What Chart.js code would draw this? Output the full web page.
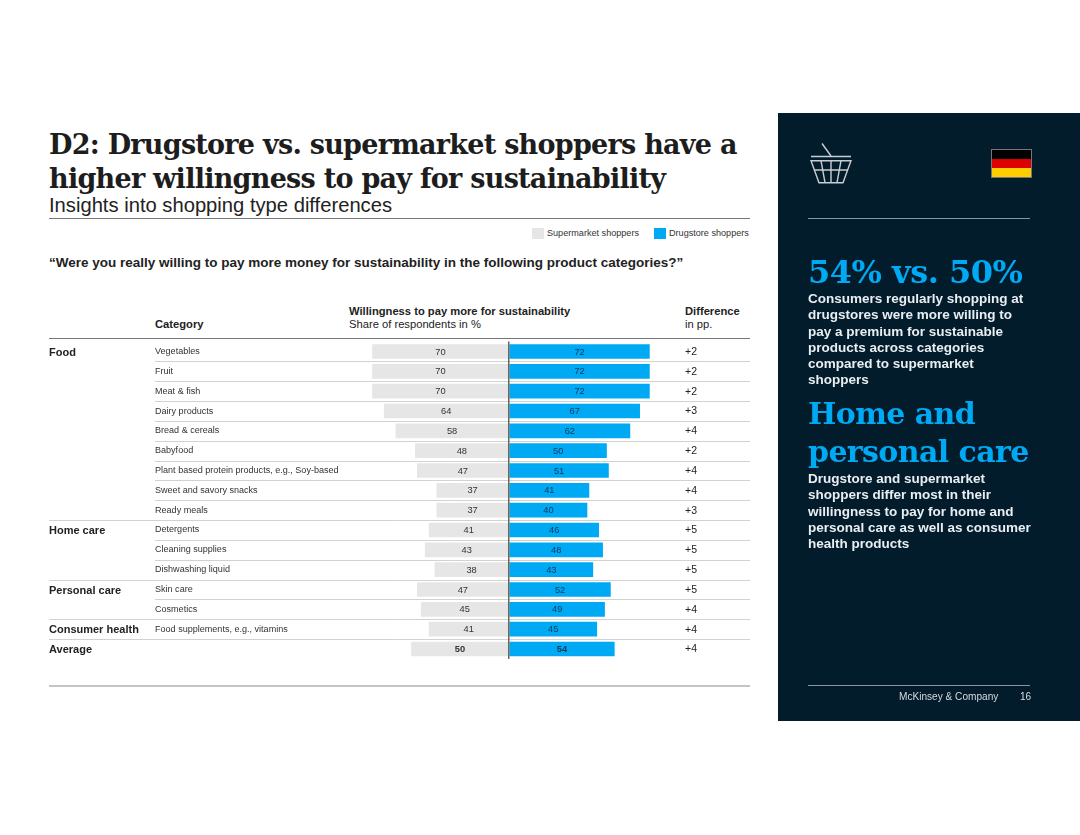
<!DOCTYPE html>
<html>
<head>
<meta charset="utf-8">
<script src="https://cdn.jsdelivr.net/npm/chart.js@4"></script>
<style>
  html, body { margin: 0; padding: 0; background: #fff; }
  body { width: 1080px; height: 835px; position: relative; overflow: hidden; font-family: "Liberation Sans", Arial, sans-serif; color: #222; }
  #chart { position: absolute; left: 0; top: 0; }
  .t { position: absolute; white-space: nowrap; }
  .b { font-weight: bold; }
  .serif { font-family: "DejaVu Serif", serif; font-weight: bold; }
  .rule { position: absolute; height: 1px; }
  #panel { position: absolute; left: 778px; top: 113px; width: 302px; height: 608px; background: #021c2c; }
  .white { color: #e9eef1; font-weight: bold; font-size: 13.5px; line-height: 16.25px; }
  .blue { color: #00a9f4; }
  .swatch { position: absolute; width: 12px; height: 11px; top: 228px; }
</style>
</head>
<body>

<div id="panel"></div>

<div class="t serif" style="left:49px;top:128px;font-size:27px;letter-spacing:-0.73px;line-height:33.5px;color:#1d1d1d">D2: Drugstore vs. supermarket shoppers have a<br>higher willingness to pay for sustainability</div>
<div class="t" style="left:49px;top:194px;font-size:20.2px;line-height:23px">Insights into shopping type differences</div>
<div class="rule" style="left:49px;top:218px;width:701px;background:#777"></div>

<div id="legend"></div>

<div class="t b" style="left:49px;top:255px;font-size:13.5px;line-height:15px">“Were you really willing to pay more money for sustainability in the following product categories?”</div>

<div class="t b" style="left:155px;top:317px;font-size:11.2px;line-height:14px">Category</div>
<div class="t b" style="left:349px;top:304px;font-size:11.2px;line-height:14px">Willingness to pay more for sustainability</div>
<div class="t" style="left:349px;top:317px;font-size:11.2px;line-height:14px">Share of respondents in %</div>
<div class="t b" style="left:685px;top:304px;font-size:11.2px;line-height:14px">Difference</div>
<div class="t" style="left:685px;top:317px;font-size:11.2px;line-height:14px">in pp.</div>
<div class="rule" style="left:49px;top:338px;width:701px;background:#777"></div>
<div class="rule" style="left:49px;top:685px;width:701px;height:2px;background:#c4c4c4"></div>

<canvas id="chart" width="1080" height="835"></canvas>

<!-- basket icon -->
<svg class="t" style="left:808px;top:142px" width="46" height="44" viewBox="0 0 46 44" fill="none" stroke="#c9ced2" stroke-width="1.4">
  <path d="M14 1.5 L23 14"/>
  <path d="M3 14.5 H43"/>
  <path d="M3 18.7 H43 L35 40.7 H11 Z"/>
  <path d="M6 28 H40"/>
  <path d="M13 18.7 L17 40.7 M23 18.7 V40.7 M33 18.7 L29 40.7"/>
</svg>
<!-- flag -->
<div class="t" style="left:991px;top:149px;width:41px;height:29px;border:1px solid #777;box-sizing:border-box;overflow:hidden">
  <div style="height:9px;background:#000"></div>
  <div style="height:9px;background:#dd0000"></div>
  <div style="height:9px;background:#ffce00"></div>
</div>
<div class="rule" style="left:808px;top:218px;width:222px;background:#8a949b"></div>

<div class="t serif blue" style="left:808px;top:250px;font-size:32px;letter-spacing:-0.5px;line-height:44px">54% vs. 50%</div>
<div class="t white" style="left:808px;top:291px">Consumers regularly shopping at<br>drugstores were more willing to<br>pay a premium for sustainable<br>products across categories<br>compared to supermarket<br>shoppers</div>
<div class="t serif blue" style="left:808px;top:395px;font-size:30px;letter-spacing:-0.6px;line-height:38px">Home and<br>personal care</div>
<div class="t white" style="left:808px;top:471px">Drugstore and supermarket<br>shoppers differ most in their<br>willingness to pay for home and<br>personal care as well as consumer<br>health products</div>

<div class="rule" style="left:808px;top:685px;width:222px;background:#8a949b"></div>
<div class="t" style="left:899px;top:690px;font-size:10.1px;line-height:13px;color:#d5dade">McKinsey &amp; Company</div>
<div class="t" style="left:1020px;top:690px;font-size:10.1px;line-height:13px;color:#d5dade">16</div>

<script>
const categories = [
  "Vegetables", "Fruit", "Meat & fish", "Dairy products", "Bread & cereals", "Babyfood",
  "Plant based protein products, e.g., Soy-based", "Sweet and savory snacks", "Ready meals",
  "Detergents", "Cleaning supplies", "Dishwashing liquid",
  "Skin care", "Cosmetics",
  "Food supplements, e.g., vitamins",
  ""
];
const supermarket = [70, 70, 70, 64, 58, 48, 47, 37, 37, 41, 43, 38, 47, 45, 41, 50];
const drugstore = [72, 72, 72, 67, 62, 50, 51, 41, 40, 46, 48, 43, 52, 49, 45, 54];
const difference = ["+2", "+2", "+2", "+3", "+4", "+2", "+4", "+4", "+3", "+5", "+5", "+5", "+5", "+4", "+4", "+4"];
const groupNames = ["Food", "Home care", "Personal care", "Consumer health", "Average"];
const groupFirstRow = [0, 9, 12, 14, 15];
const seriesNames = ["Supermarket shoppers", "Drugstore shoppers"];
const seriesColors = ["#e6e6e6", "#00a9f4"];

// legend sits above the question so it is plain html
const legendX = [[532, 547], [654, 669]];
document.getElementById("legend").innerHTML = seriesNames.map((name, i) =>
  `<div class="swatch" style="left:${legendX[i][0]}px;background:${seriesColors[i]}"></div>` +
  `<div class="t" style="left:${legendX[i][1]}px;top:227px;font-size:9.1px;line-height:13px;color:#333">${name}</div>`
).join("");

// row separators, group names, bar values and the difference column
const rowDecor = {
  id: "rowDecor",
  beforeDatasetsDraw(chart) {
    const { ctx, scales: { y } } = chart;
    ctx.save();
    ctx.strokeStyle = "#d2d2d2";
    ctx.lineWidth = 1;
    for (let i = 0; i < categories.length - 1; i++) {
      const py = Math.round((y.getPixelForValue(i) + y.getPixelForValue(i + 1)) / 2) + 0.5;
      ctx.beginPath();
      ctx.moveTo(groupFirstRow.includes(i + 1) ? 49 : 155, py);
      ctx.lineTo(750, py);
      ctx.stroke();
    }
    ctx.restore();
  },
  afterDatasetsDraw(chart) {
    const { ctx, scales: { y } } = chart;
    const last = categories.length - 1;
    ctx.save();
    ctx.textBaseline = "middle";

    ctx.textAlign = "center";
    [0, 1].forEach(d => {
      const values = d === 0 ? supermarket : drugstore;
      chart.getDatasetMeta(d).data.forEach((bar, i) => {
        ctx.font = (i === last ? "bold " : "") + "9.3px 'Liberation Sans'";
        ctx.fillStyle = d === 0 ? "#333" : "#0d3a58";
        const box = bar.getProps(["x", "base"], true);
        ctx.fillText(values[i], (box.x + box.base) / 2, bar.y + 0.5);
      });
    });

    ctx.textAlign = "left";
    ctx.fillStyle = "#222";
    ctx.font = "10.5px 'Liberation Sans'";
    difference.forEach((d, i) => ctx.fillText(d, 685, y.getPixelForValue(i) + 0.5));

    ctx.font = "bold 11px 'Liberation Sans'";
    groupNames.forEach((g, i) => ctx.fillText(g, 49, y.getPixelForValue(groupFirstRow[i]) + 1));
    ctx.restore();
  }
};

new Chart(document.getElementById("chart"), {
  type: "bar",
  data: {
    labels: categories,
    datasets: [
      { label: seriesNames[0], data: supermarket.map(v => -v), backgroundColor: seriesColors[0], barThickness: 14 },
      { label: seriesNames[1], data: drugstore, backgroundColor: seriesColors[1], barThickness: 14 }
    ]
  },
  options: {
    indexAxis: "y",
    responsive: false,
    animation: false,
    layout: { padding: { left: 155, right: 327.25, top: 341.6, bottom: 176.1 } },
    plugins: { legend: { display: false }, tooltip: { enabled: false } },
    scales: {
      x: {
        stacked: true,
        min: -80,
        max: 125,
        border: { display: false },
        ticks: { display: false, stepSize: 5 },
        grid: {
          z: 1,
          drawTicks: false,
          lineWidth: 1.5,
          color: c => (c.tick.value === 0 ? "#666" : "rgba(0,0,0,0)")
        }
      },
      y: {
        stacked: true,
        afterFit(scale) { scale.width = 198; },
        border: { display: false },
        grid: { display: false, drawTicks: false },
        ticks: {
          crossAlign: "far",
          padding: 0,
          autoSkip: false,
          color: "#333",
          font: { family: "Liberation Sans", size: 9.05 }
        }
      }
    }
  },
  plugins: [rowDecor]
});
</script>
</body>
</html>
